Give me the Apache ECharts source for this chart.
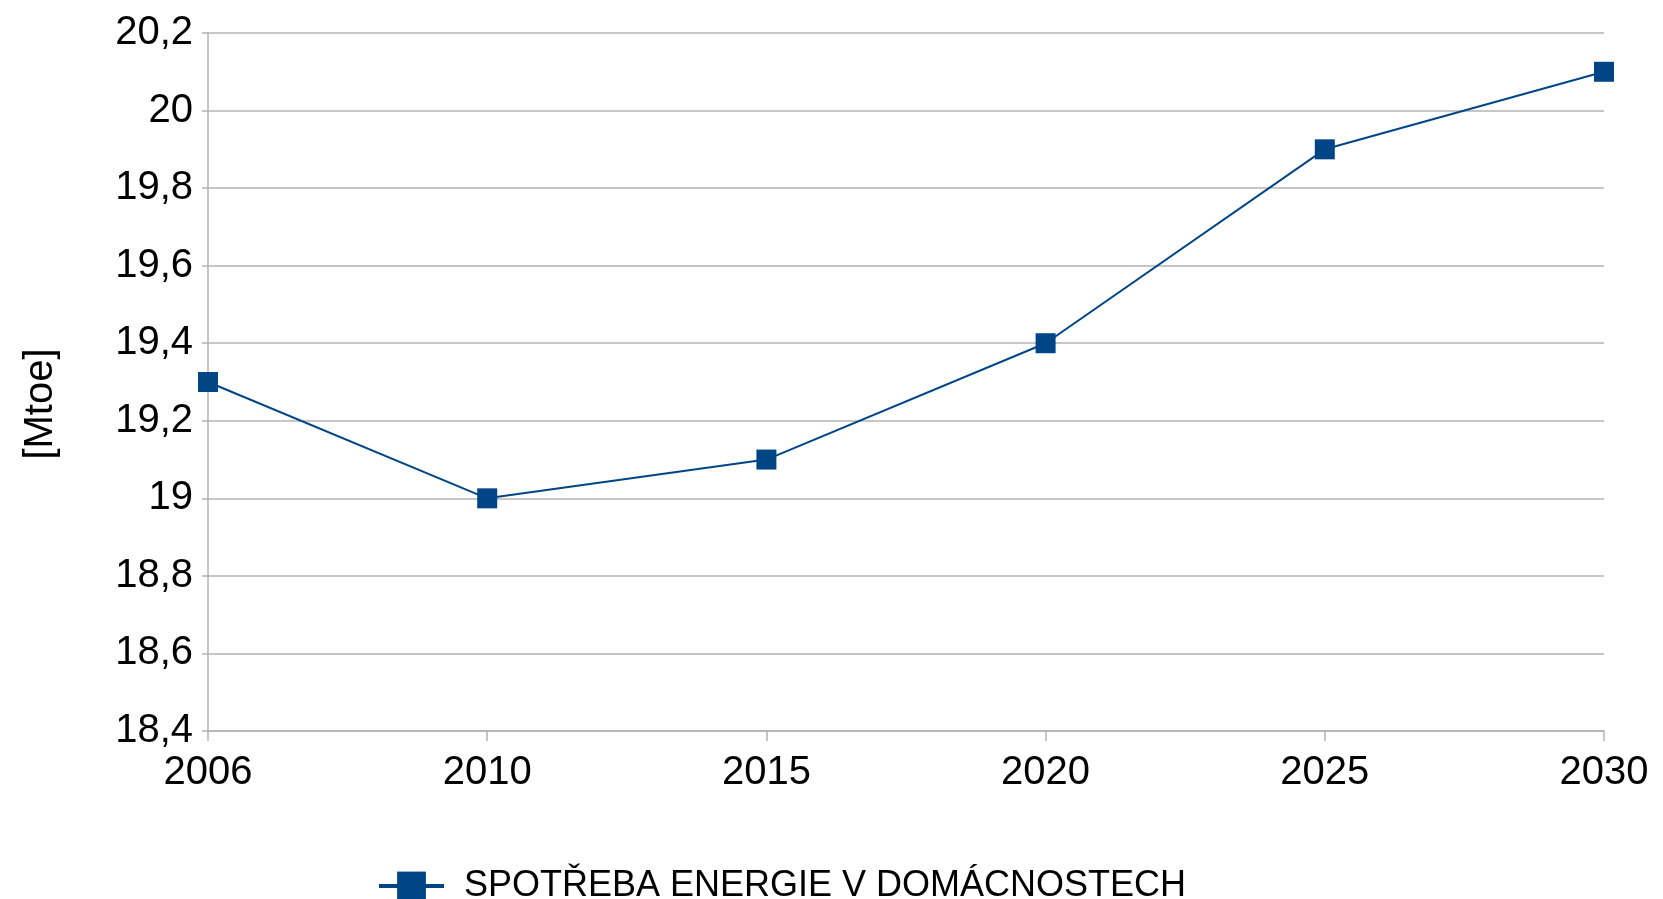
<!DOCTYPE html>
<html>

<head>
  <meta charset="utf-8">
  <title>Spotřeba energie</title>
  <script src="https://cdn.jsdelivr.net/npm/echarts@6.0.0/dist/echarts.min.js"></script>
  <style>
    html, body { margin: 0; padding: 0; background: #fff; }
  </style>
</head>

<body>
  <div id="main" style="width:1663px; height:899px;"></div>
  <script type="text/javascript">
    // data
    const years = ['2006', '2010', '2015', '2020', '2025', '2030'];
    const consumption = [19.3, 19.0, 19.1, 19.4, 19.9, 20.1];
    const seriesName = 'SPOTŘEBA ENERGIE V DOMÁCNOSTECH';
    const unitLabel = '[Mtoe]';

    const blue = '#004586';
    const gridGrey = '#b3b3b3';

    var myChart = echarts.init(document.getElementById('main'));

    var option = {
      animation: false,
      grid: { left: 208, right: 59, top: 33, bottom: 168 },
      legend: {
        data: [seriesName],
        left: 372,
        top: 863,
        itemWidth: 65,
        itemHeight: 36,
        lineStyle: { width: 4 },
        textStyle: {
          fontFamily: 'Liberation Sans',
          fontSize: 36,
          color: '#000',
          padding: [0, 0, 0, 15]
        }
      },
      xAxis: {
        type: 'category',
        data: years,
        boundaryGap: false,
        axisLine: { lineStyle: { color: gridGrey, width: 1.5 } },
        axisTick: { show: true, length: 10, lineStyle: { color: gridGrey, width: 1.5 } },
        axisLabel: {
          fontFamily: 'Liberation Sans',
          fontSize: 40,
          color: '#000',
          margin: 22,
          showMinLabel: true,
          showMaxLabel: true
        },
        splitLine: { show: false }
      },
      yAxis: {
        type: 'value',
        min: 18.4,
        max: 20.2,
        interval: 0.2,
        axisLine: { show: true, lineStyle: { color: gridGrey, width: 1.5 } },
        axisTick: { show: true, length: 6, lineStyle: { color: gridGrey, width: 1.5 } },
        axisLabel: {
          fontFamily: 'Liberation Sans',
          fontSize: 40,
          color: '#000',
          margin: 15,
          formatter: v => String(Math.round(v * 10) / 10).replace('.', ',')
        },
        splitLine: { show: true, lineStyle: { color: gridGrey, width: 1.5 } }
      },
      graphic: [{
        type: 'text',
        x: 41,
        y: 404,
        rotation: Math.PI / 2,
        style: {
          text: unitLabel,
          fontFamily: 'Liberation Sans',
          fontSize: 40,
          fill: '#000',
          align: 'center',
          verticalAlign: 'middle'
        }
      }],
      series: [{
        name: seriesName,
        type: 'line',
        data: consumption,
        symbol: 'rect',
        symbolSize: 20,
        lineStyle: { color: blue, width: 2 },
        itemStyle: { color: blue }
      }]
    };

    myChart.setOption(option);
  </script>
</body>

</html>
